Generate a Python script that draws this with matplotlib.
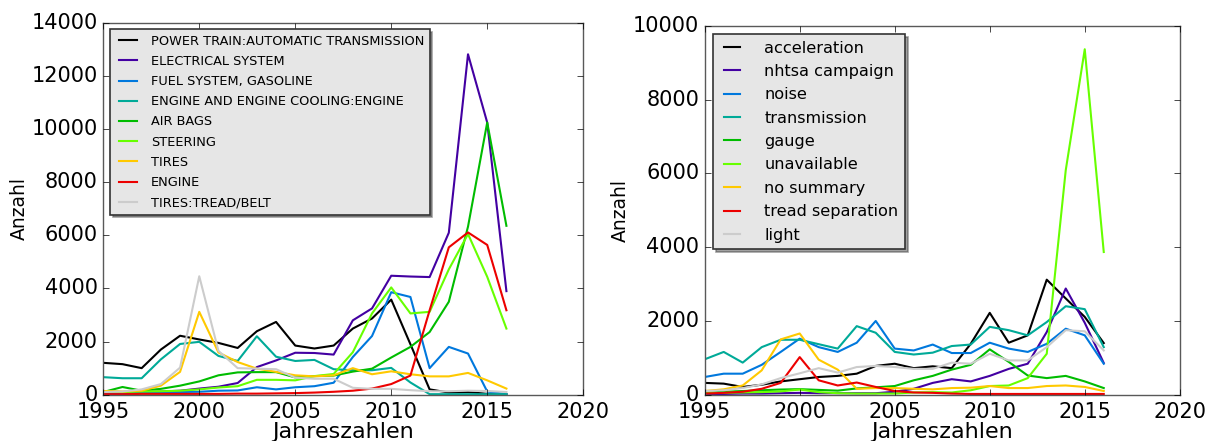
import numpy as np
import matplotlib.pyplot as plt

plt.style.use('classic')

years = list(range(1995, 2017))

# Beschwerden nach Komponente
component_labels = [
    'POWER TRAIN:AUTOMATIC TRANSMISSION',
    'ELECTRICAL SYSTEM',
    'FUEL SYSTEM, GASOLINE',
    'ENGINE AND ENGINE COOLING:ENGINE',
    'AIR BAGS',
    'STEERING',
    'TIRES',
    'ENGINE',
    'TIRES:TREAD/BELT',
]
power_train = [1200, 1150, 1000, 1700, 2220, 2080, 1950, 1760, 2390, 2740, 1850, 1740,
               1850, 2490, 2870, 3580, 1900, 200, 80, 100, 30, 20]
electrical = [60, 80, 100, 120, 150, 230, 300, 440, 1040, 1290, 1580, 1570,
              1510, 2800, 3250, 4480, 4450, 4430, 6100, 12820, 10250, 3900]
fuel_system = [50, 60, 70, 90, 100, 110, 150, 160, 280, 200, 280, 320,
               450, 1420, 2210, 3860, 3680, 1000, 1800, 1550, 120, 20]
engine_cooling = [660, 620, 620, 1330, 1910, 1990, 1460, 1270, 2200, 1430, 1270, 1310,
                  960, 920, 920, 1010, 460, 20, 20, 20, 20, 20]
air_bags = [100, 290, 150, 220, 340, 500, 730, 840, 850, 850, 650, 700,
            720, 870, 980, 1400, 1800, 2360, 3500, 6330, 10250, 6360]
steering = [130, 100, 120, 130, 150, 200, 270, 320, 560, 560, 540, 700,
            780, 1600, 3060, 4040, 3060, 3120, 4720, 6050, 4440, 2490]
tires = [140, 120, 150, 340, 860, 3120, 1590, 1230, 980, 860, 730, 690,
         730, 1000, 770, 880, 770, 690, 690, 820, 540, 230]
engine = [20, 20, 30, 30, 30, 30, 30, 40, 40, 50, 60, 80,
          110, 150, 230, 400, 720, 3180, 5550, 6110, 5640, 3180]
tread_belt = [100, 120, 200, 400, 1020, 4460, 1650, 1000, 980, 960, 640, 600,
              600, 260, 220, 220, 170, 130, 130, 150, 140, 100]
component_series = [power_train, electrical, fuel_system, engine_cooling, air_bags,
                    steering, tires, engine, tread_belt]

# Häufigste Begriffe in den Beschreibungen
term_labels = [
    'acceleration',
    'nhtsa campaign',
    'noise',
    'transmission',
    'gauge',
    'unavailable',
    'no summary',
    'tread separation',
    'light',
]
acceleration = [320, 300, 210, 270, 360, 420, 480, 510, 570, 780, 840, 720,
                770, 720, 1380, 2220, 1410, 1610, 3120, 2610, 2110, 1400]
nhtsa_campaign = [20, 20, 30, 30, 40, 50, 40, 40, 40, 40, 80, 160,
                  320, 420, 360, 510, 700, 840, 1700, 2880, 1950, 860]
noise = [480, 570, 570, 810, 1160, 1520, 1290, 1160, 1410, 2000, 1250, 1200,
         1360, 1130, 1130, 1410, 1250, 1160, 1380, 1790, 1610, 840]
transmission = [960, 1160, 870, 1290, 1490, 1490, 1370, 1250, 1860, 1680, 1160, 1090,
                1140, 1320, 1360, 1840, 1750, 1610, 1970, 2400, 2320, 1290]
gauge = [50, 80, 100, 120, 140, 150, 130, 110, 170, 200, 235, 390,
         510, 680, 810, 1230, 890, 520, 450, 510, 360, 180]
unavailable = [40, 50, 60, 70, 90, 140, 70, 40, 30, 30, 30, 60,
               70, 60, 120, 235, 250, 450, 1110, 6090, 9370, 3870]
no_summary = [100, 145, 250, 660, 1500, 1660, 950, 680, 160, 180, 180, 160,
              145, 180, 190, 235, 180, 180, 235, 250, 210, 100]
tread_separation = [30, 50, 80, 160, 320, 1020, 390, 250, 330, 210, 100, 60,
                    50, 30, 20, 20, 20, 20, 20, 20, 20, 20]
light = [100, 120, 180, 280, 450, 580, 720, 600, 750, 780, 750, 700,
         700, 870, 840, 1110, 930, 930, 1290, 1750, 1720, 1200]
term_series = [acceleration, nhtsa_campaign, noise, transmission, gauge,
               unavailable, no_summary, tread_separation, light]

colors = plt.cm.nipy_spectral(np.linspace(0, 1, 9))

fig = plt.figure(figsize=(12.15, 4.41), dpi=100, facecolor='white')
ax1 = fig.add_axes([0.085, 0.105, 0.395, 0.843])
ax2 = fig.add_axes([0.580, 0.105, 0.391, 0.836])


def draw(ax, series, labels, ymax, legend_size, spacing, handle_len, text_pad):
    for values, label, color in zip(series, labels, colors):
        ax.plot(years, values, color=color, linewidth=1.5, label=label)
    ax.set_xlim(1995, 2020)
    ax.set_ylim(0, ymax)
    ax.set_xticks(range(1995, 2021, 5))
    ax.set_yticks(range(0, ymax + 1, 2000))
    ax.ticklabel_format(useOffset=False, style='plain')
    ax.tick_params(labelsize=15)
    ax.tick_params(axis='x', pad=5)
    ax.set_xlabel('Jahreszahlen', fontsize=16, labelpad=0)
    ax.set_ylabel('Anzahl', fontsize=13.5, labelpad=2)
    for spine in ax.spines.values():
        spine.set_edgecolor('0.35')
    leg = ax.legend(loc='upper left', fontsize=legend_size, shadow=True,
                    fancybox=False, handlelength=handle_len, labelspacing=spacing,
                    handletextpad=text_pad)
    leg.get_frame().set_facecolor('0.9')
    leg.get_frame().set_edgecolor('0.2')
    leg.get_frame().set_linewidth(1.2)


draw(ax1, component_series, component_labels, 14000, 9.3, 0.56, 2.0, 0.8)
draw(ax2, term_series, term_labels, 10000, 11.6, 0.52, 1.6, 1.2)

fig.savefig('out.png', dpi=100, facecolor='white')
